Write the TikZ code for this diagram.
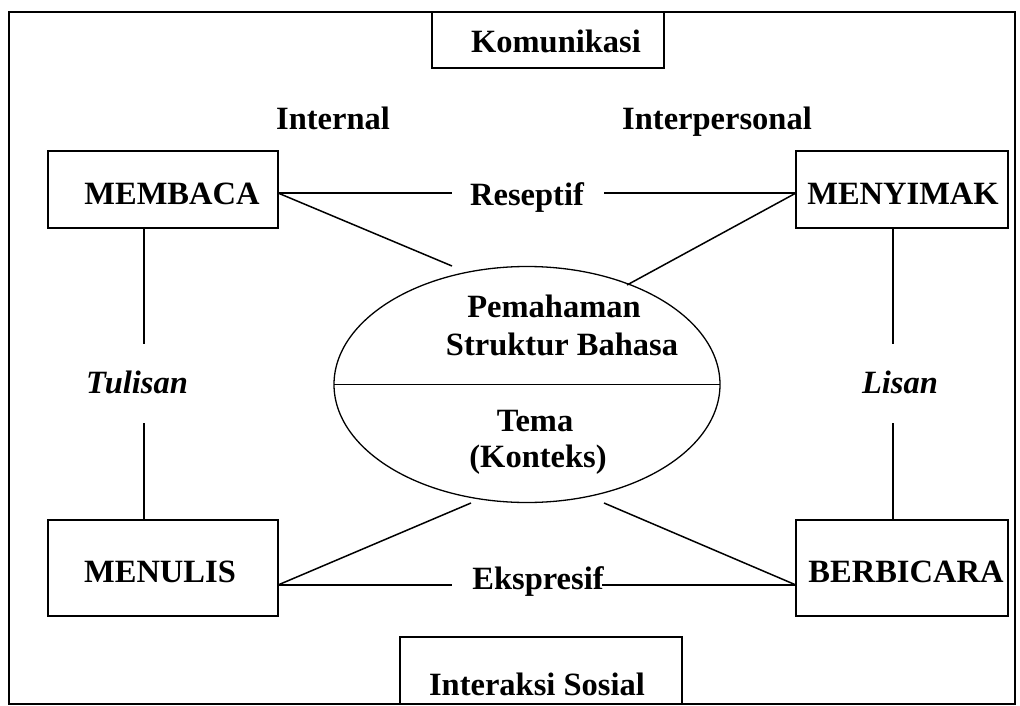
\documentclass[tikz,border=0pt]{standalone}
\usepackage{fontspec}
\setmainfont{Liberation Serif}
\usetikzlibrary{shapes.geometric}
\begin{document}
\begin{tikzpicture}[x=1pt,y=-1pt,
  every node/.style={inner sep=0pt, outer sep=0pt},
  lbl/.style={font=\fontsize{32.5}{37}\selectfont\bfseries, anchor=base},
  ilbl/.style={font=\fontsize{32.5}{37}\selectfont\bfseries\itshape, anchor=base},
  skillbox/.style={draw, line width=1.5pt, minimum width=230pt, minimum height=77pt},
  link/.style={line width=1.5pt}]
\useasboundingbox (0,0) rectangle (1020,706);

% outer frame
\draw[link] (9,12) rectangle (1015,704);

% title boxes on the frame
\node[draw, fill=white, line width=1.5pt, minimum width=232pt, minimum height=56pt] (kombox) at (548,40) {};
\node[lbl] (kom) at (556,53) {Komunikasi};
\node[draw, fill=white, line width=1.5pt, minimum width=282pt, minimum height=67pt] (intbox) at (541,670.5) {};
\node[lbl] (int) at (537,695) {Interaksi Sosial};

% the four skills
\node[skillbox] (membaca) at (163,189.5) {};
\node[skillbox, minimum width=212pt] (menyimak) at (902,189.5) {};
\node[skillbox, minimum height=96pt] (menulis) at (163,568) {};
\node[skillbox, minimum width=212pt, minimum height=96pt] (berbicara) at (902,568) {};
\node[lbl] (tmembaca) at (172,204) {MEMBACA};
\node[lbl] (tmenyimak) at (903,204) {MENYIMAK};
\node[lbl] (tmenulis) at (160,582) {MENULIS};
\node[lbl] (tberbicara) at (906,582) {BERBICARA};

% centre ellipse
\node[ellipse, draw, line width=1.3pt, minimum width=386pt, minimum height=236pt] (core) at (527,384.5) {};
\draw[line width=1.3pt] (core.west) -- (core.east);
\node[lbl] (pem) at (554,317) {Pemahaman};
\node[lbl] (str) at (562,355) {Struktur Bahasa};
\node[lbl] (tema) at (535,431) {Tema};
\node[lbl] (kon) at (538,467) {(Konteks)};

% labels between the boxes
\node[lbl] (internal) at (333,130) {Internal};
\node[lbl] (interp) at (717,130) {Interpersonal};
\node[lbl] (resep) at (527,205) {Reseptif};
\node[lbl] (ekspr) at (538,589) {Ekspresif};
\node[ilbl] (tul) at (137,393) {Tulisan};
\node[ilbl] (lis) at (900,393) {Lisan};

% free line ends
\coordinate (rA) at (452,193);
\coordinate (rB) at (604,193);
\coordinate (eA) at (452,585);
\coordinate (eB) at (602,585);
\coordinate (tA) at (144,344);
\coordinate (tB) at (144,423);
\coordinate (lA) at (893,344);
\coordinate (lB) at (893,423);
\coordinate (d1) at (452,266);
\coordinate (d2) at (627,285);
\coordinate (d3) at (471,503);
\coordinate (d4) at (604,503);

% receptive row
\draw[link] (membaca.east |- rA) -- (rA);
\draw[link] (rB) -- (menyimak.west |- rB);
\draw[link] (membaca.east |- rA) -- (d1);
\draw[link] (menyimak.west |- rB) -- (d2);

% expressive row
\draw[link] (menulis.east |- eA) -- (eA);
\draw[link] (eB) -- (berbicara.west |- eB);
\draw[link] (menulis.east |- eA) -- (d3);
\draw[link] (berbicara.west |- eB) -- (d4);

% written / spoken columns
\draw[link] (membaca.south -| tA) -- (tA);
\draw[link] (tB) -- (menulis.north -| tB);
\draw[link] (menyimak.south -| lA) -- (lA);
\draw[link] (lB) -- (berbicara.north -| lB);
\end{tikzpicture}
\end{document}
